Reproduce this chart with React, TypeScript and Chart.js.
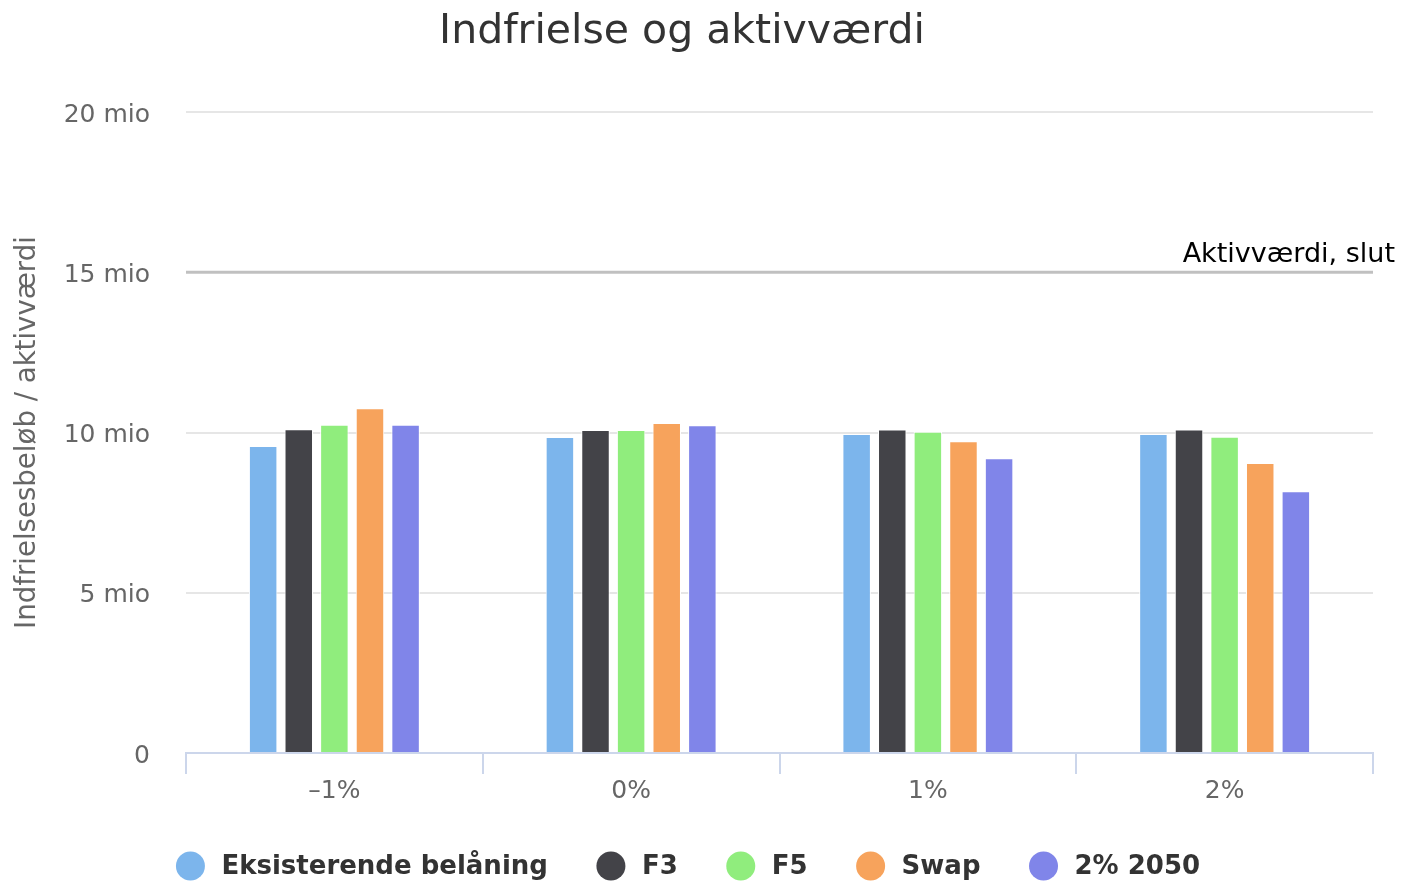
import React, { useEffect, useRef } from 'react';
import { Chart, registerables } from 'chart.js';

Chart.register(...registerables);

const chartTitle = 'Indfrielse og aktivværdi';
const yAxisTitle = 'Indfrielsesbeløb / aktivværdi';
const categories = ['–1%', '0%', '1%', '2%'];
const seriesNames = ['Eksisterende belåning', 'F3', 'F5', 'Swap', '2% 2050'];
const seriesColors = ['#7cb5ec', '#434348', '#90ed7d', '#f7a35c', '#8085e9'];
const eksisterende = [9.58, 9.86, 9.95, 9.95];
const f3 = [10.1, 10.08, 10.09, 10.09];
const f5 = [10.24, 10.08, 10.02, 9.87];
const swap = [10.76, 10.3, 9.73, 9.05];
const pct2050 = [10.24, 10.23, 9.2, 8.17];
const yMin = 0;
const yMax = 20;
const yStep = 5;
const aktivVaerdi = 15;
const aktivLabel = 'Aktivværdi, slut';

const seriesValues = [eksisterende, f3, f5, swap, pct2050];
const FONT = '"DejaVu Sans", sans-serif';

const titlePlugin = {
  id: 'hcTitle',
  afterDraw(chart: any) {
    const ctx = chart.ctx;
    ctx.save();
    ctx.font = '41px ' + FONT;
    ctx.fillStyle = '#333333';
    ctx.textAlign = 'center';
    ctx.textBaseline = 'middle';
    ctx.fillText(chartTitle, 682, 32);
    ctx.restore();
  },
};

const plotLinePlugin = {
  id: 'plotLine',
  beforeDatasetsDraw(chart: any) {
    const { ctx, chartArea, scales } = chart;
    const y = scales.y.getPixelForValue(aktivVaerdi);
    ctx.save();
    ctx.strokeStyle = '#c0c0c0';
    ctx.lineWidth = 3;
    ctx.beginPath();
    ctx.moveTo(chartArea.left, y);
    ctx.lineTo(chartArea.right, y);
    ctx.stroke();
    ctx.font = '27px ' + FONT;
    ctx.fillStyle = '#000';
    ctx.textAlign = 'right';
    ctx.textBaseline = 'alphabetic';
    ctx.fillText(aktivLabel, chartArea.right + 22, y - 10);
    ctx.restore();
  },
};

const legendPlugin = {
  id: 'hcLegend',
  afterDraw(chart: any) {
    const ctx = chart.ctx;
    ctx.save();
    ctx.font = 'bold 26px ' + FONT;
    const items = chart.data.datasets.map((ds: any) => ({
      label: ds.label,
      color: ds.backgroundColor,
      w: ctx.measureText(ds.label).width,
    }));
    const r = 14.5;
    const textGap = 31;
    const itemGap = 63;
    let total = r;
    items.forEach((it: any, i: number) => {
      total += textGap + it.w;
      if (i < items.length - 1) total += itemGap;
    });
    const centerX = 688;
    const y = 866;
    let c = centerX - total / 2 + r;
    ctx.textBaseline = 'middle';
    ctx.textAlign = 'left';
    items.forEach((it: any) => {
      ctx.fillStyle = it.color;
      ctx.beginPath();
      ctx.arc(c, y, r, 0, Math.PI * 2);
      ctx.fill();
      ctx.fillStyle = '#333333';
      ctx.fillText(it.label, c + textGap, y + 1);
      c = c + textGap + it.w + itemGap;
    });
    ctx.restore();
  },
};

export default function App() {
  const canvasRef = useRef<HTMLCanvasElement | null>(null);

  useEffect(() => {
    document.body.style.margin = '0';
    const canvas = canvasRef.current;
    if (!canvas) return;
    const chart = new Chart(canvas, {
      type: 'bar',
      data: {
        labels: categories,
        datasets: seriesNames.map((name, i) => ({
          label: name,
          data: seriesValues[i],
          backgroundColor: seriesColors[i],
          borderColor: '#ffffff',
          borderWidth: 1,
          categoryPercentage: 0.6,
          barPercentage: 0.8,
        })),
      },
      options: {
        responsive: false,
        devicePixelRatio: 1,
        animation: false,
        layout: { padding: { left: 0, right: 29, top: 112, bottom: 72 } },
        plugins: {
          legend: { display: false },
          tooltip: { enabled: false },
          title: { display: false },
        },
        scales: {
          x: {
            offset: true,
            afterFit: (scale: any) => {
              scale.height = 60;
            },
            border: { display: true, color: '#ccd6eb', width: 2 },
            grid: {
              offset: true,
              drawOnChartArea: false,
              drawTicks: true,
              tickLength: 21,
              color: '#ccd6eb',
              lineWidth: 2,
            },
            ticks: {
              color: '#666666',
              font: { family: FONT, size: 25 },
              padding: 2,
            },
          },
          y: {
            min: yMin,
            max: yMax,
            afterFit: (scale: any) => {
              scale.width = 186;
            },
            border: { display: false },
            grid: { color: '#e6e6e6', lineWidth: 2, drawTicks: false },
            ticks: {
              stepSize: yStep,
              color: '#666666',
              font: { family: FONT, size: 25 },
              padding: 36,
              labelOffset: 3,
              callback: (v: any) => (Number(v) === 0 ? '0' : v + ' mio'),
            },
            title: {
              display: true,
              text: yAxisTitle,
              color: '#666666',
              font: { family: FONT, size: 27.6 },
              padding: { top: 11, bottom: 0 },
            },
          },
        },
      },
      plugins: [plotLinePlugin, legendPlugin, titlePlugin],
    });
    return () => chart.destroy();
  }, []);

  return (
    <div style={{ width: 1402, height: 885, position: 'relative' }}>
      <canvas ref={canvasRef} width={1402} height={885} style={{ display: 'block' }} />
    </div>
  );
}
